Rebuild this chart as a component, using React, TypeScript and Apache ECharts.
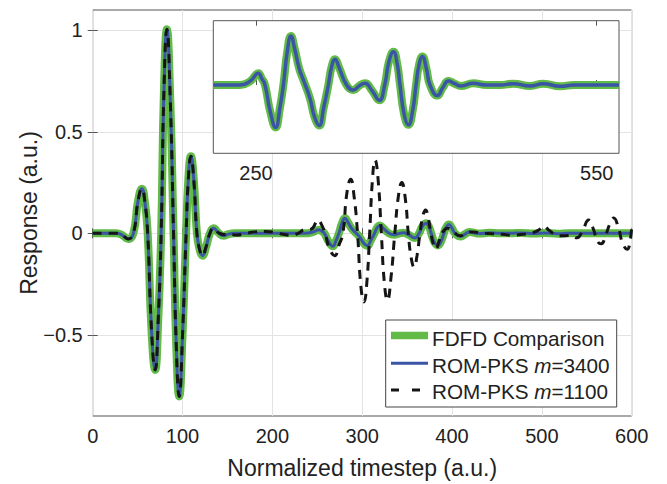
import React, { useEffect, useRef } from "react";
import * as echarts from "echarts";

const FONT = '"Liberation Sans", Arial, Helvetica, sans-serif';
const GREEN = "#62bb46";
const BLUE = "#3a55a6";
const BLACK = "#151515";
const AXIS = "#555555";
const TEXT = "#222222";

// ---- axis ticks ----
const yTickValues = [-0.5, 0, 0.5, 1];
const yTickLabels = ["\u22120.5", "0", "0.5", "1"];
const insetTickValues = [250, 550];
const insetRange = [212.4, 569.6];
const legendNames = ["FDFD Comparison", "ROM-PKS m=3400", "ROM-PKS m=1100"];

// ---- FDFD comparison (green) ----
const fdfdTime = [
  0, 26, 32, 39.5, 45.3, 50.5, 54.7, 58.2, 61.2, 65.5, 69.5, 73, 76.2, 79.3, 82.6, 86.2, 90, 93, 96.3, 100,
  104, 106.5, 109.3, 112.6, 116, 119, 122.3, 126, 130.5, 134.6, 140, 145.8, 151, 158, 212.4, 236, 245, 252, 255,
  257.9, 262.5, 267.3, 271, 274.1, 277.5, 280.8, 284, 288, 291.6, 297.5, 301.5, 305.7, 309.5, 313.7, 316.5,
  319.6, 323, 329.8, 335.7, 341, 346, 352, 358.6, 363.3, 367, 371, 374.5, 376.8, 380.5, 384.2, 387.8, 390.9,
  393.5, 396.5, 400, 403.2, 409.7, 414.5, 419.4, 425, 430.3, 441.3, 453.1, 465, 476.6, 491.3, 503, 517.7,
  530, 569.6, 600,
];
const fdfdResponse = [
  0, 0, -0.006, -0.028, 0, 0.16, 0.22, 0.15, 0, -0.48, -0.673, -0.42, 0, 0.7, 1.005, 0.68, 0, -0.55, -0.804,
  -0.5, 0, 0.27, 0.38, 0.26, 0, -0.08, -0.11, -0.07, 0, 0.025, 0.002, -0.012, -0.004, 0, 0, 0, 0.006, 0.0176,
  0.01, 0, -0.04, -0.064, -0.035, 0, 0.05, 0.074, 0.055, 0.025, 0.008, -0.02, -0.048, -0.061, -0.035, 0,
  0.027, 0.039, 0.027, 0, -0.0075, -0.001, 0.0026, -0.008, -0.023, 0, 0.035, 0.05, 0.03, 0, -0.045, -0.06,
  -0.04, 0, 0.03, 0.043, 0.025, 0, -0.016, -0.004, 0.006, 0.002, -0.0015, 0.0025, 0, 0, 0.002, -0.0015,
  0.002, -0.002, 0, 0, 0,
];

// ---- ROM-PKS m=3400 (blue) : coincides with FDFD ----
const rom3400Time = fdfdTime.slice();
const rom3400Response = fdfdResponse.slice();

// ---- ROM-PKS m=1100 (black dashed) ----
const rom1100Time = [
  0, 26, 32, 39.5, 45.3, 50.5, 54.7, 58.2, 61.2, 65.5, 69.5, 73, 76.2, 79.3, 82.6, 86.2, 90, 93, 96.3, 100,
  104, 106.5, 109.3, 112.6, 116, 119, 122.3, 126, 130.5, 134.6, 140, 146, 153, 160, 170, 180, 192, 203, 212,
  220, 228, 236, 243, 251, 255, 258.5, 264, 269.5, 274, 278.5, 283, 287.2, 291, 294.8, 298.5, 302, 305.2,
  308.3, 311.5, 314.3, 317.8, 321.3, 324.8, 328.1, 332, 336.3, 340.5, 344.1, 348, 351.3, 354.5, 357.8, 361,
  364.3, 367.5, 370.5, 373.5, 376.5, 379.3, 382, 385.5, 389.5, 395, 402, 409, 416, 424, 433, 445, 456, 467,
  478, 489, 496, 502, 508, 515, 524, 532, 539, 545, 552, 557, 562, 566, 571, 576, 580, 585, 590, 595, 598,
  600,
];
const rom1100Response = [
  0, 0, -0.006, -0.028, 0, 0.16, 0.22, 0.15, 0, -0.48, -0.673, -0.42, 0, 0.7, 1.005, 0.68, 0, -0.55, -0.804,
  -0.5, 0, 0.27, 0.38, 0.26, 0, -0.08, -0.11, -0.07, 0, 0.025, 0.003, -0.006, -0.006, -0.008, -0.001, 0.007,
  0.009, 0.004, -0.005, -0.01, -0.002, 0.018, 0.02, 0.065, 0.04, 0, -0.08, -0.11, -0.06, 0, 0.2, 0.266,
  0.18, 0, -0.26, -0.338, -0.24, 0, 0.27, 0.361, 0.26, 0, -0.25, -0.33, -0.22, 0, 0.19, 0.25, 0.17, 0,
  -0.12, -0.167, -0.11, 0, 0.085, 0.115, 0.075, 0, -0.055, -0.077, -0.04, 0.005, 0.025, 0.005, -0.012,
  0.003, 0.007, 0.001, -0.002, -0.005, -0.01, -0.005, 0.002, 0.015, 0.035, 0.015, -0.006, -0.012, -0.01,
  -0.022, 0.01, 0.065, 0.025, -0.04, -0.052, -0.01, 0.05, 0.075, 0.03, -0.05, -0.078, -0.045, 0.035,
];

const pairs = (t: number[], v: number[]) => t.map((x, i) => [x, v[i]]);
const inInset = (p: number[]) => p[0] >= insetRange[0] && p[0] <= insetRange[1];

const tickInside = (values?: number[]) => ({
  show: true,
  inside: true,
  length: 5,
  lineStyle: { color: AXIS, width: 1 },
  ...(values ? { customValues: values } : {}),
});

export default function App() {
  const ref = useRef<HTMLDivElement>(null);

  useEffect(() => {
    if (!ref.current) return;
    const chart = echarts.init(ref.current, undefined, { renderer: "svg" });

    const labelStyle = { fontSize: 20, color: TEXT, fontFamily: FONT };
    const fdfd = pairs(fdfdTime, fdfdResponse);
    const rom3400 = pairs(rom3400Time, rom3400Response);
    const rom1100 = pairs(rom1100Time, rom1100Response);

    const option: any = {
      animation: false,
      backgroundColor: "#ffffff",
      textStyle: { fontFamily: FONT },
      grid: [
        {
          left: 92.7, top: 10, width: 539, height: 407.5,
          show: true, backgroundColor: "#ffffff", borderColor: AXIS, borderWidth: 1,
        },
        {
          left: 213.3, top: 20.7, width: 405.7, height: 132.6, z: 10,
          show: true, backgroundColor: "#ffffff", borderColor: AXIS, borderWidth: 1,
        },
      ],
      xAxis: [
        {
          type: "value", gridIndex: 0, position: "bottom", min: 0, max: 600, interval: 100,
          axisLine: { show: false },
          axisTick: tickInside(),
          axisLabel: { ...labelStyle, margin: 10 },
          splitLine: { show: true, lineStyle: { color: "#e3e3e3", width: 1 } },
          name: "Normalized timestep (a.u.)", nameLocation: "middle", nameGap: 40,
          nameMoveOverlap: false,
          nameTextStyle: { fontSize: 23, color: TEXT, fontFamily: FONT },
        },
        {
          type: "value", gridIndex: 0, position: "top", min: 0, max: 600, interval: 100,
          axisLine: { show: false }, axisTick: tickInside(), axisLabel: { show: false },
          splitLine: { show: false },
        },
        {
          type: "value", gridIndex: 1, position: "bottom", min: insetRange[0], max: insetRange[1], z: 11,
          axisLine: { show: false },
          axisTick: tickInside(insetTickValues),
          axisLabel: { ...labelStyle, margin: 10, customValues: insetTickValues },
          splitLine: { show: false },
        },
        {
          type: "value", gridIndex: 1, position: "top", min: insetRange[0], max: insetRange[1], z: 11,
          axisLine: { show: false }, axisTick: tickInside(insetTickValues), axisLabel: { show: false },
          splitLine: { show: false },
        },
      ],
      yAxis: [
        {
          type: "value", gridIndex: 0, position: "left", min: -0.9, max: 1.1,
          axisLine: { show: false },
          axisTick: tickInside(yTickValues),
          axisLabel: {
            ...labelStyle, margin: 10, customValues: yTickValues,
            formatter: (v: number) => yTickLabels[yTickValues.findIndex((t) => Math.abs(t - v) < 1e-9)] ?? "",
          },
          splitLine: { show: true, lineStyle: { color: "#e3e3e3", width: 1 } },
          name: "Response (a.u.)", nameLocation: "middle", nameGap: 52,
          nameMoveOverlap: false,
          nameTextStyle: { fontSize: 23, color: TEXT, fontFamily: FONT },
        },
        {
          type: "value", gridIndex: 0, position: "right", min: -0.9, max: 1.1,
          axisLine: { show: false }, axisTick: tickInside(yTickValues),
          axisLabel: { show: false, customValues: yTickValues }, splitLine: { show: false },
        },
        {
          type: "value", gridIndex: 1, min: -0.103, max: 0.097, z: 11,
          axisLine: { show: false }, axisTick: { show: false }, axisLabel: { show: false },
          splitLine: { show: false },
        },
      ],
      series: [
        {
          name: legendNames[0], type: "line", xAxisIndex: 0, yAxisIndex: 0, data: fdfd,
          symbol: "none", smooth: 0.5, z: 2, lineStyle: { color: GREEN, width: 8 },
        },
        {
          name: legendNames[1], type: "line", xAxisIndex: 0, yAxisIndex: 0, data: rom3400,
          symbol: "none", smooth: 0.5, z: 3, lineStyle: { color: BLUE, width: 3 },
        },
        {
          name: legendNames[2], type: "line", xAxisIndex: 0, yAxisIndex: 0, data: rom1100,
          symbol: "none", smooth: 0.5, z: 4, lineStyle: { color: BLACK, width: 3, type: [9, 7] },
        },
        {
          name: legendNames[0] + " (inset)", type: "line", xAxisIndex: 2, yAxisIndex: 2,
          data: fdfd.filter(inInset),
          symbol: "none", smooth: 0.5, z: 12, lineStyle: { color: GREEN, width: 8 },
        },
        {
          name: legendNames[1] + " (inset)", type: "line", xAxisIndex: 2, yAxisIndex: 2,
          data: rom3400.filter(inInset),
          symbol: "none", smooth: 0.5, z: 13, lineStyle: { color: BLUE, width: 3.5 },
        },
      ],
      graphic: [
        {
          type: "rect", z: 100, silent: true,
          shape: { x: 385.7, y: 320, width: 231, height: 87 },
          style: { fill: "#ffffff", stroke: "#444444", lineWidth: 1 },
        },
        {
          type: "rect", z: 101, silent: true,
          shape: { x: 391, y: 331.7, width: 37, height: 7.6 },
          style: { fill: GREEN },
        },
        {
          type: "line", z: 101, silent: true,
          shape: { x1: 391, y1: 363.3, x2: 428, y2: 363.3 },
          style: { stroke: BLUE, lineWidth: 3 },
        },
        {
          type: "line", z: 101, silent: true,
          shape: { x1: 391, y1: 390, x2: 420, y2: 390 },
          style: { stroke: BLACK, lineWidth: 3, lineDash: [8, 13] },
        },
        {
          type: "text", z: 101, silent: true, x: 432, y: 338.5,
          style: {
            text: legendNames[0], fill: TEXT, fontSize: 20.7, fontFamily: FONT, verticalAlign: "middle",
          },
        },
        {
          type: "text", z: 101, silent: true, x: 432, y: 365.1,
          style: {
            text: "{a|ROM-PKS }{b|m}{a|=3400}", verticalAlign: "middle",
            rich: {
              a: { fill: TEXT, fontSize: 20.7, fontFamily: FONT },
              b: { fill: TEXT, fontSize: 20.7, fontFamily: FONT, fontStyle: "italic" },
            },
          },
        },
        {
          type: "text", z: 101, silent: true, x: 432, y: 391.8,
          style: {
            text: "{a|ROM-PKS }{b|m}{a|=1100}", verticalAlign: "middle",
            rich: {
              a: { fill: TEXT, fontSize: 20.7, fontFamily: FONT },
              b: { fill: TEXT, fontSize: 20.7, fontFamily: FONT, fontStyle: "italic" },
            },
          },
        },
      ],
    };

    chart.setOption(option);
    return () => chart.dispose();
  }, []);

  return (
    <div
      ref={ref}
      style={{ position: "fixed", left: 0, top: 0, width: 667, height: 484, background: "#fff" }}
    />
  );
}
